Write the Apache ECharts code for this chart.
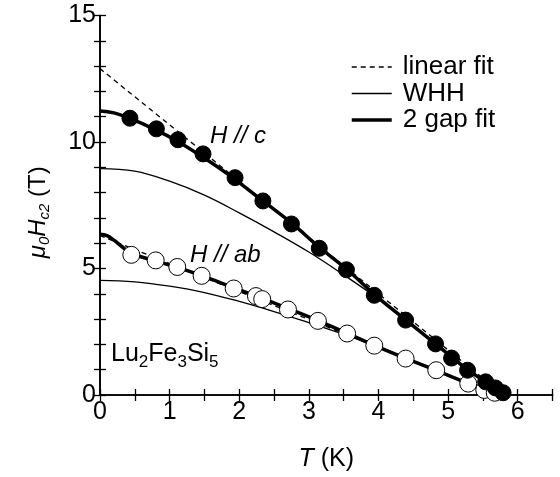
<!DOCTYPE html>
<html>
<head>
<meta charset="utf-8">
<script src="https://cdn.jsdelivr.net/npm/echarts@6/dist/echarts.min.js"></script>
<style>
html, body { margin: 0; padding: 0; background: #fff; }
#chart { width: 560px; height: 477px; }
</style>
</head>
<body>
<div id="chart"></div>
<script>
// measured points, H // c (filled circles)
var tempC = [0.43, 0.81, 1.12, 1.48, 1.94, 2.34, 2.75, 3.15, 3.54, 3.94, 4.39, 4.82, 5.05, 5.28, 5.54, 5.68, 5.79];
var hc2C  = [10.94, 10.52, 10.09, 9.53, 8.59, 7.67, 6.76, 5.80, 4.95, 3.94, 2.96, 2.02, 1.46, 0.98, 0.52, 0.28, 0.09];

// measured points, H // ab (open circles)
var tempAb = [0.45, 0.80, 1.11, 1.46, 1.92, 2.24, 2.33, 2.70, 3.13, 3.55, 3.94, 4.39, 4.83, 5.29, 5.52, 5.67];
var hc2Ab  = [5.54, 5.32, 5.06, 4.71, 4.21, 3.91, 3.79, 3.38, 2.93, 2.43, 1.95, 1.44, 0.98, 0.45, 0.20, 0.09];

// fit curves
var gapTempC = [0, 0.2, 0.44, 0.8, 1.1, 1.45, 1.84, 2.34, 2.75, 3.15, 3.54, 3.94, 4.39, 4.82, 5.28, 5.55, 5.8];
var gapHC    = [11.23, 11.15, 10.92, 10.48, 10.05, 9.45, 8.72, 7.67, 6.8, 5.84, 4.98, 3.98, 2.97, 2.02, 1.0, 0.5, 0];
var whhTempC = [0, 0.5, 1.0, 1.5, 2.0, 2.5, 3.0, 3.5, 4.0, 4.5, 5.0, 5.5, 5.8];
var whhHC    = [8.95, 8.85, 8.45, 7.9, 7.2, 6.45, 5.65, 4.75, 3.8, 2.75, 1.65, 0.55, 0];
var linTempC = [0, 5.8];
var linHC    = [12.9, 0];

var gapTempAb = [0, 0.1, 0.2, 0.3, 0.45, 0.8, 1.1, 1.46, 1.92, 2.33, 2.7, 3.13, 3.55, 3.94, 4.39, 4.83, 5.28, 5.5, 5.7];
var gapHAb    = [6.35, 6.3, 6.12, 5.9, 5.6, 5.3, 5.05, 4.72, 4.24, 3.82, 3.42, 2.94, 2.44, 1.96, 1.45, 0.97, 0.47, 0.22, 0];
var whhTempAb = [0, 0.5, 1.0, 1.5, 2.0, 2.5, 3.0, 3.5, 4.0, 4.5, 5.0, 5.5, 5.7];
var whhHAb    = [4.53, 4.47, 4.3, 4.05, 3.7, 3.3, 2.86, 2.4, 1.9, 1.35, 0.8, 0.22, 0];
var linTempAb = [0, 5.7];
var linHAb    = [6.3, 0];

var legendNames = ['linear fit', 'WHH', '2 gap fit'];

function pairs(xs, ys) {
    return xs.map(function (x, i) { return [x, ys[i]]; });
}

var font = '"Liberation Sans", Arial, Helvetica, sans-serif';
var chart = echarts.init(document.getElementById('chart'));

// line look for each fit kind, shared by series and legend
var fitStyles = {
    'linear fit': { color: '#000', width: 1.3, type: [5, 4] },
    'WHH': { color: '#000', width: 1.3, type: 'solid' },
    '2 gap fit': { color: '#000', width: 3.5, type: 'solid' }
};

function fitLine(name, xs, ys) {
    return {
        name: name,
        type: 'line',
        data: pairs(xs, ys),
        smooth: 0.4,
        showSymbol: false,
        symbol: 'none',
        itemStyle: { color: '#000' },
        lineStyle: fitStyles[name],
        z: 2
    };
}

var tickStyle = { show: true, inside: true, length: 6, lineStyle: { color: '#000', width: 1.3 } };
var lineStyle = { show: true, lineStyle: { color: '#000', width: 1.6 } };

var option = {
    backgroundColor: '#fff',
    animation: false,
    textStyle: { fontFamily: font, color: '#000' },
    grid: { left: 100, right: 7.5, top: 15.5, bottom: 80 },
    legend: {
        data: legendNames.map(function (n) {
            return { name: n, lineStyle: fitStyles[n] };
        }),
        orient: 'vertical',
        left: 345,
        top: 49,
        itemWidth: 40,
        itemHeight: 14,
        itemGap: 0.5,
        itemStyle: { opacity: 0 },
        textStyle: { fontSize: 26, lineHeight: 26, color: '#000', fontFamily: font, padding: [0, 0, 0, 6] }
    },
    xAxis: [{
        type: 'value', min: 0, max: 6.5, interval: 0.5,
        axisLine: lineStyle, axisTick: tickStyle, splitLine: { show: false },
        axisLabel: {
            fontSize: 25, color: '#000', margin: 5, fontFamily: font,
            formatter: function (v) { return Number.isInteger(v) ? String(v) : ''; }
        },
        name: '{i|T} (K)',
        nameLocation: 'middle',
        nameGap: 52,
        nameTextStyle: { fontSize: 25, color: '#000', fontFamily: font, rich: { i: { fontStyle: 'italic', fontSize: 25, fontFamily: font } } }
    }, {
        type: 'value', position: 'top', min: 0, max: 6.5, interval: 0.5,
        axisLine: lineStyle, axisTick: tickStyle, axisLabel: { show: false }, splitLine: { show: false }
    }],
    yAxis: [{
        type: 'value', min: 0, max: 15, interval: 1,
        axisLine: lineStyle, axisTick: tickStyle, splitLine: { show: false },
        axisLabel: {
            fontSize: 25, color: '#000', margin: 4, fontFamily: font,
            formatter: function (v) { return v % 5 === 0 ? String(v) : ''; }
        },
        name: '{i|μ}{s|0}{i|H}{s|c2}{n| (T)}',
        nameLocation: 'middle',
        nameRotate: 90,
        nameGap: 48,
        nameTextStyle: {
            fontSize: 24, color: '#000', fontFamily: font,
            padding: [0, 14, 0, 0],
            rich: {
                i: { fontStyle: 'italic', fontSize: 24, lineHeight: 24, verticalAlign: 'top', fontFamily: font },
                n: { fontSize: 24, lineHeight: 24, verticalAlign: 'top', fontFamily: font },
                s: { fontStyle: 'italic', fontSize: 15, lineHeight: 26, verticalAlign: 'bottom', fontFamily: font }
            }
        }
    }, {
        type: 'value', position: 'right', min: 0, max: 15, interval: 1,
        axisLine: lineStyle, axisTick: tickStyle, axisLabel: { show: false }, splitLine: { show: false }
    }],
    graphic: [{
        type: 'text', left: 210, top: 124, z: 10,
        style: { text: 'H // c', font: 'italic 24px ' + font, fill: '#000' }
    }, {
        type: 'text', left: 190, top: 243, z: 10,
        style: { text: 'H // ab', font: 'italic 24px ' + font, fill: '#000' }
    }, {
        type: 'text', left: 111, top: 342, z: 10,
        style: {
            text: '{n|Lu}{s|2}{n|Fe}{s|3}{n|Si}{s|5}',
            rich: {
                n: { fontSize: 25, lineHeight: 25, verticalAlign: 'top', fontFamily: font, fill: '#000' },
                s: { fontSize: 17, lineHeight: 29, verticalAlign: 'bottom', fontFamily: font, fill: '#000' }
            }
        }
    }],
    series: [
        fitLine('linear fit', linTempC, linHC),
        fitLine('linear fit', linTempAb, linHAb),
        fitLine('WHH', whhTempC, whhHC),
        fitLine('WHH', whhTempAb, whhHAb),
        fitLine('2 gap fit', gapTempC, gapHC),
        fitLine('2 gap fit', gapTempAb, gapHAb),
        {
            name: 'H // c', type: 'scatter', data: pairs(tempC, hc2C),
            symbol: 'circle', symbolSize: 16, z: 5,
            itemStyle: { color: '#000', borderColor: '#000', borderWidth: 1, opacity: 1 }
        },
        {
            name: 'H // ab', type: 'scatter', data: pairs(tempAb, hc2Ab),
            symbol: 'circle', symbolSize: 17, z: 4,
            itemStyle: { color: '#fff', borderColor: '#000', borderWidth: 1, opacity: 1 }
        }
    ]
};
chart.setOption(option);
</script>
</body>
</html>
